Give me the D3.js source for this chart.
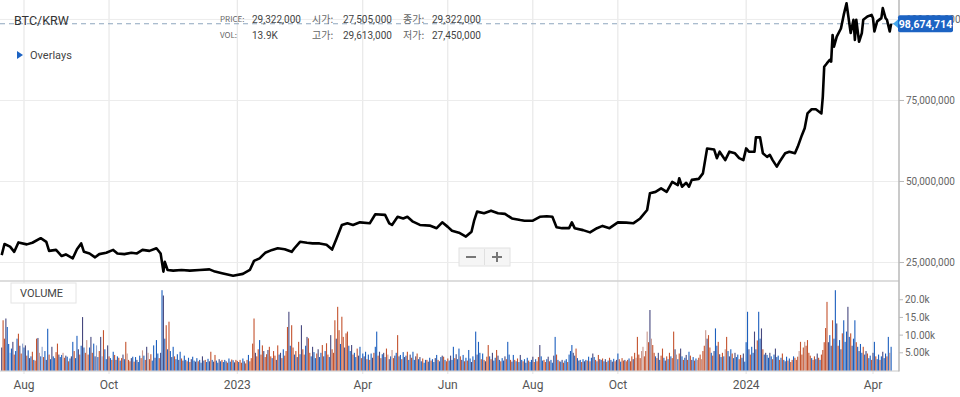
<!DOCTYPE html>
<html>
<head>
<meta charset="utf-8">
<script src="https://cdn.jsdelivr.net/npm/d3@7"></script>
<style>
  body { margin: 0; background: #fff; }
  svg { display: block; font-family: Roboto, "Liberation Sans", Arial, sans-serif; }
</style>
</head>
<body>
<div id="chart"></div>
<script>
// ---- data ----
const priceDates = [
  "2022-07-16","2022-07-18","2022-07-22","2022-07-25","2022-07-28","2022-08-03","2022-08-07","2022-08-13",
  "2022-08-17","2022-08-19","2022-08-24","2022-08-28","2022-08-31","2022-09-05","2022-09-08","2022-09-11",
  "2022-09-13","2022-09-17","2022-09-21","2022-09-24","2022-09-29","2022-10-04","2022-10-07","2022-10-12",
  "2022-10-17","2022-10-21","2022-10-25","2022-10-30","2022-11-04","2022-11-07","2022-11-09","2022-11-10",
  "2022-11-12","2022-11-16","2022-11-22","2022-11-28","2022-12-05","2022-12-12","2022-12-16","2022-12-21",
  "2022-12-29","2023-01-05","2023-01-10","2023-01-13","2023-01-17","2023-01-21","2023-01-26","2023-01-30",
  "2023-02-04","2023-02-09","2023-02-11","2023-02-15","2023-02-20","2023-02-24","2023-03-01","2023-03-06",
  "2023-03-10","2023-03-13","2023-03-17","2023-03-21","2023-03-25","2023-03-30","2023-04-06","2023-04-10",
  "2023-04-17","2023-04-20","2023-04-22","2023-04-26","2023-04-30","2023-05-03","2023-05-07","2023-05-12",
  "2023-05-19","2023-05-24","2023-05-28","2023-06-01","2023-06-04","2023-06-09","2023-06-14","2023-06-18",
  "2023-06-20","2023-06-22","2023-06-27","2023-07-02","2023-07-07","2023-07-12","2023-07-17","2023-07-23",
  "2023-07-26","2023-08-01","2023-08-06","2023-08-11","2023-08-15","2023-08-18","2023-08-22","2023-08-27",
  "2023-08-29","2023-08-31","2023-09-06","2023-09-11","2023-09-16","2023-09-20","2023-09-25","2023-10-01",
  "2023-10-07","2023-10-12","2023-10-17","2023-10-22","2023-10-24","2023-10-28","2023-11-01","2023-11-05",
  "2023-11-09","2023-11-13","2023-11-14","2023-11-16","2023-11-19","2023-11-21","2023-11-23","2023-11-28",
  "2023-12-01","2023-12-04","2023-12-09","2023-12-11","2023-12-13","2023-12-17","2023-12-20","2023-12-24",
  "2023-12-27","2023-12-30","2024-01-01","2024-01-03","2024-01-07","2024-01-08","2024-01-11","2024-01-13",
  "2024-01-16","2024-01-18","2024-01-20","2024-01-23","2024-01-25","2024-01-29","2024-02-01","2024-02-05",
  "2024-02-07","2024-02-10","2024-02-12","2024-02-14","2024-02-17","2024-02-20","2024-02-24","2024-02-25",
  "2024-02-26","2024-02-28","2024-03-01","2024-03-02","2024-03-03","2024-03-04","2024-03-06","2024-03-09",
  "2024-03-11","2024-03-13","2024-03-14","2024-03-16","2024-03-18","2024-03-19","2024-03-20","2024-03-22",
  "2024-03-24","2024-03-25","2024-03-28","2024-03-31","2024-04-01","2024-04-02","2024-04-04","2024-04-07",
  "2024-04-08","2024-04-10","2024-04-11","2024-04-13","2024-04-14"
];
// closing price, millions of KRW
const priceValues = [
  27.3,30.7,29.9,28.3,31.2,30.6,31.1,32.5,
  31.4,28.6,28.9,27.0,27.5,26.3,29.1,30.9,
  28.3,27.8,26.6,27.6,28.0,28.9,27.8,27.6,
  28.0,27.8,28.9,28.6,29.4,27.8,22.2,25.2,
  22.7,22.5,22.7,22.5,22.7,22.9,22.2,21.7,
  20.9,21.5,22.7,25.5,26.3,28.0,28.9,29.4,
  29.1,28.3,29.4,31.4,31.1,30.9,30.9,30.5,
  29.0,32.2,36.6,37.1,36.6,37.4,37.1,39.9,
  39.7,37.1,36.6,39.1,38.6,39.1,37.6,36.6,
  36.4,35.6,37.4,36.0,34.8,34.2,33.0,34.5,
  38.1,40.7,40.2,41.0,40.2,40.0,38.6,38.1,
  37.9,37.9,39.1,39.3,39.1,35.9,35.6,35.6,
  37.4,35.6,35.0,34.3,35.6,36.3,35.6,37.4,
  37.3,37.1,38.6,41.2,46.4,46.8,47.9,46.8,
  49.9,48.9,51.0,48.4,49.6,48.4,50.5,50.8,
  52.5,60.2,59.9,57.2,59.2,56.6,59.2,58.7,
  57.2,56.6,60.2,59.2,59.2,63.6,63.6,58.7,
  57.6,58.2,56.6,54.6,56.1,58.7,59.2,58.7,
  60.7,64.3,66.4,71.0,72.3,72.3,71.0,76.2,
  85.4,86.5,87.5,87.0,95.2,91.6,94.7,97.2,
  101.4,105.0,101.9,95.8,99.9,93.7,99.9,93.1,
  95.8,99.9,100.9,101.4,100.4,96.3,99.4,100.4,
  103.5,100.4,99.9,96.3,98.67
];
const lastPrice = 98674714;

// daily volume (thousands of BTC-units), starting at volStart
const volStart = "2022-07-16";
const volumes = [
  6.5,14.2,9.0,14.7,12.3,7.5,5.0,6.2,8.1,4.5,
  5.5,9.0,10.4,7.0,4.8,7.6,6.5,7.1,4.2,5.7,
  3.5,4.0,5.3,3.0,2.8,9.0,9.2,5.0,4.0,6.7,
  3.8,5.5,3.0,11.8,4.5,3.2,6.7,4.0,3.5,5.2,
  7.6,4.5,3.8,4.4,5.0,3.6,4.2,3.9,2.6,3.4,
  4.0,8.1,5.5,3.5,9.8,6.0,4.5,7.0,15.1,6.5,
  5.0,8.6,4.5,6.5,9.5,5.0,7.6,4.0,7.1,3.8,
  5.5,9.5,4.0,11.4,6.0,3.2,7.1,4.0,3.5,3.0,
  5.3,4.4,3.0,4.0,3.6,2.8,3.5,4.5,3.2,8.1,
  4.8,3.0,2.6,3.5,3.9,2.5,3.8,3.0,2.4,4.2,
  3.5,5.7,4.2,3.0,6.7,5.0,3.2,4.6,2.8,7.1,
  3.6,8.6,4.8,3.5,5.0,22.7,21.2,9.0,12.8,6.0,
  13.8,5.5,3.8,6.7,4.0,3.2,4.6,3.0,5.3,3.4,
  2.8,4.2,3.0,2.6,3.6,2.4,3.2,3.9,2.8,2.5,
  3.5,2.6,3.0,2.2,4.0,2.8,3.0,2.4,3.3,2.6,
  5.3,3.0,2.5,4.4,2.8,2.2,3.2,2.6,3.0,2.4,
  3.0,2.6,2.2,3.4,2.5,3.1,2.9,2.3,3.0,2.7,
  2.4,3.0,2.2,3.4,2.6,2.0,3.0,4.4,2.6,3.5,
  7.6,14.7,5.0,4.0,6.0,8.6,4.5,7.1,5.5,3.8,
  4.6,5.8,6.7,4.0,3.5,5.5,4.2,3.0,7.1,4.5,
  5.0,3.5,6.0,4.2,5.5,12.3,16.6,7.0,12.8,6.5,
  4.5,5.5,3.8,8.1,4.6,12.8,6.0,4.5,7.0,9.5,
  9.1,5.0,4.0,6.7,5.2,3.5,4.8,6.0,3.8,5.0,
  7.2,4.0,5.5,7.7,4.5,3.8,10.0,6.0,5.0,14.2,
  9.0,18.0,11.4,7.5,15.2,9.5,6.5,10.5,11.0,7.0,
  5.5,7.2,4.5,5.0,3.8,6.2,4.2,6.7,3.5,4.8,
  4.0,5.3,3.2,4.5,3.0,4.8,3.6,5.0,6.7,11.0,
  4.2,5.3,3.5,4.6,5.0,3.8,6.2,4.5,3.2,4.0,
  5.8,3.5,4.2,5.0,10.0,4.0,4.4,3.2,5.2,3.8,
  4.2,5.3,3.0,4.5,3.6,5.3,3.0,4.0,4.8,3.2,
  3.8,2.6,3.4,2.2,3.0,3.0,2.5,3.6,2.8,3.2,
  2.4,3.5,4.4,3.0,2.6,3.8,4.2,3.9,3.0,2.6,
  3.4,2.8,4.2,3.0,6.7,3.5,4.6,3.2,6.2,4.0,
  3.0,4.4,2.6,3.6,2.8,5.8,3.4,2.4,4.0,3.0,
  11.0,4.5,8.1,5.0,3.2,4.8,3.0,2.6,3.9,7.2,
  4.0,3.2,5.0,2.8,3.6,5.8,4.2,3.0,2.6,3.5,
  2.8,4.0,3.2,8.1,4.5,3.0,2.5,4.4,3.0,2.6,
  3.4,2.4,4.4,3.0,2.6,3.2,2.2,3.6,2.8,2.4,
  3.0,3.9,2.4,3.2,2.6,3.8,7.2,4.0,2.8,3.0,
  2.4,3.2,3.9,2.6,3.0,2.2,4.2,9.5,4.5,3.0,
  2.6,2.5,3.0,2.2,2.8,3.2,2.4,4.5,5.5,7.2,
  5.0,4.2,6.2,3.5,2.8,3.0,2.4,3.2,2.6,3.0,
  2.8,3.9,2.6,3.6,4.8,3.8,3.0,2.6,4.4,3.2,
  3.0,3.4,2.6,3.2,2.4,2.8,3.6,3.0,2.5,3.3,
  2.6,3.0,4.8,3.2,2.5,3.5,2.8,3.0,2.6,3.0,
  3.4,2.6,4.0,3.2,5.0,3.6,9.5,4.5,3.5,5.5,
  6.7,4.0,5.5,11.0,8.0,17.1,9.0,7.2,5.0,4.0,
  3.5,5.0,3.0,4.2,6.2,3.6,2.8,4.0,3.2,5.0,
  4.0,3.5,11.0,6.0,4.5,3.2,4.8,6.2,4.0,3.0,
  3.6,4.4,3.0,5.3,4.2,3.0,3.8,2.8,3.4,3.0,
  3.6,4.5,3.2,5.5,7.0,11.4,9.0,10.0,6.5,5.0,
  4.2,5.5,11.9,7.0,8.1,4.6,3.8,5.0,4.0,6.0,
  9.5,5.5,4.0,6.0,4.8,3.5,5.0,3.8,4.5,3.2,
  4.4,3.6,4.8,2.5,8.0,16.6,6.0,4.5,6.7,5.0,
  11.0,6.0,8.5,16.6,9.0,11.9,6.0,4.5,5.0,4.4,
  3.6,5.0,4.0,3.2,4.5,6.2,3.8,4.2,3.0,3.6,
  4.8,3.0,2.6,3.9,2.8,3.4,2.4,3.0,4.0,3.6,
  3.0,3.9,5.5,8.1,4.5,6.5,8.1,7.0,8.6,5.0,
  4.2,3.5,3.0,4.0,3.2,4.8,3.6,3.0,4.5,5.8,
  8.0,12.0,19.4,8.0,10.0,7.0,14.2,9.0,22.7,13.3,
  7.0,8.6,6.0,10.5,14.2,8.1,11.0,18.0,9.5,10.5,
  7.0,9.0,14.2,8.0,6.7,5.5,7.5,5.0,6.7,4.5,
  5.5,4.8,3.5,4.2,3.0,5.0,8.1,4.0,3.2,4.5,
  3.0,4.0,5.3,3.5,4.8,4.0,9.5,5.0,6.7
];
// bar colour per day: r red, p pale red, b blue, l pale blue, n navy
const volColors =
  "nrrnbblbnr" + "bbrnrlbnrb" + "nbrbrrnpbl" + "rbnbrbnbbr" + "rnbbprnbrb" +
  "nbrbbnrbnb" + "rprbnrbnlb" + "rnlrbbnrbr" + "brnbrbrnbr" + "prrnbrbnbb" +
  "rpbrnprrbb" + "nbbrnbnbrb" + "rbnbrbbnbr" + "nbbrbrnbbn" + "brbbnbrbbn" +
  "rbnrbbnbrb" + "bnrbbrbnrr" + "brrbnrrbrr" + "rrnrrbrrnr" + "rnrrbrrnrb" +
  "nrbrrrnbrr" + "brnrbnrrbn" + "rrbnbbrnbb" + "rnbrrbnrrr" + "nrrbrrnrrb" +
  "bnrbbrnbrb" + "nbrbrbnrbb" + "rnrbnbrpnb" + "prnbrnbrbn" + "brbnrbbnrb" +
  "nbrbbrnbrb" + "bnbrbbnrbr" + "rbnbbrnbbr" + "nbrbrbbnbr" + "bnbbrbrnrr" +
  "brnbbrnbrb" + "bnrbbrnbrb" + "rbnbrbnbrb" + "bnrbrrnbbr" + "rbnrbbnbrb" +
  "rbnrbbrbbb" + "nbrbnbrbnb" + "rbrbnbrbrn" + "brbnrbrbnb" + "rnbrbrrnrr" +
  "brrnrprrrp" + "prrprnprrb" + "rnbrrbnrbr" + "brrnpbrnbr" + "bnrbrnbrbp" +
  "rrprrpnrrb" + "rnbbrnbrbp" + "rbnbrbnbbr" + "rbnbbbnrbb" + "nbrbbnrbnb" +
  "bnbrbnbbrb" + "rbnbrbrrbr" + "rrprrrprrr" + "rbrrbnrbrr" + "rrrnbnrbbn" +
  "rbnrbbbnbr" + "nbbrbnbbrb" + "nrbbrnbrbb" + "rbnbbrbpb";
const barPalette = { r: "#c4532e", p: "#c9968c", b: "#1c5fbe", l: "#8fa3cf", n: "#46487e" };

const monthTicks = ["2022-08-01","2022-10-01","2023-01-01","2023-04-01","2023-06-01",
                    "2023-08-01","2023-10-01","2024-01-01","2024-04-01"];
const monthLabels = ["Aug","Oct","2023","Apr","Jun","Aug","Oct","2024","Apr"];
const priceTicks = [25e6, 50e6, 75e6, 100e6];
const volTicks = [5000, 10000, 15000, 20000];
const volTickLabels = ["5.00k","10.00k","15.0k","20.0k"];

const infoRow1 = [["PRICE:", "29,322,000"], ["시가:", "27,505,000"], ["종가:", "29,322,000"]];
const infoRow2 = [["VOL:", "13.9K"], ["고가:", "29,613,000"], ["저가:", "27,450,000"]];

// ---- layout ----
const W = 960, H = 397;
const plotR = 899;          // right price axis
const priceTop = 0, priceBot = 281;
const volTop = 281, volBot = 370.5;

const parse = d3.utcParse("%Y-%m-%d");

const svg = d3.select("#chart").append("svg")
    .attr("width", W).attr("height", H)
    .attr("viewBox", `0 0 ${W} ${H}`);

svg.append("rect").attr("width", W).attr("height", H).attr("fill", "#fff");

// time scale pinned to the month grid of the picture
const x = d3.scaleUtc()
    .domain([parse("2022-08-01"), parse("2024-04-01")])
    .range([24, 873]);

const yPrice = d3.scaleLinear().domain([19.3e6, 106e6]).range([priceBot, priceTop]);
const yVol = d3.scaleLinear().domain([0, 25300]).range([volBot, volTop]);

// vertical month grid
svg.append("g").selectAll("line")
    .data(monthTicks.map(parse))
    .enter().append("line")
    .attr("x1", d => x(d)).attr("x2", d => x(d))
    .attr("y1", 0).attr("y2", 374)
    .attr("stroke", "#e3e3e3").attr("stroke-width", 1);

// horizontal price grid
svg.append("g").selectAll("line")
    .data(priceTicks)
    .enter().append("line")
    .attr("x1", 0).attr("x2", plotR)
    .attr("y1", d => yPrice(d)).attr("y2", d => yPrice(d))
    .attr("stroke", "#ececec").attr("stroke-width", 1);

// panel separator + volume baseline
svg.append("line").attr("x1", 0).attr("x2", plotR).attr("y1", priceBot).attr("y2", priceBot)
    .attr("stroke", "#d2d2d2").attr("stroke-width", 1.5);
svg.append("line").attr("x1", 0).attr("x2", plotR).attr("y1", volBot + 0.5).attr("y2", volBot + 0.5)
    .attr("stroke", "#c8c8c8").attr("stroke-width", 1);

// volume bars
const v0 = parse(volStart);
const volData = volumes.map((v, i) => ({ date: d3.utcDay.offset(v0, i), v: v * 1000, c: volColors[i] }));
svg.append("g").selectAll("rect")
    .data(volData)
    .enter().append("rect")
    .attr("x", d => x(d.date) - 0.55)
    .attr("width", 1.1)
    .attr("y", d => yVol(d.v))
    .attr("height", d => volBot - yVol(d.v))
    .attr("fill", d => barPalette[d.c] || barPalette.b);

// last-price dashed line
svg.append("line")
    .attr("x1", 0).attr("x2", plotR)
    .attr("y1", yPrice(lastPrice)).attr("y2", yPrice(lastPrice))
    .attr("stroke", "#8fa6bf").attr("stroke-width", 1.2)
    .attr("stroke-dasharray", "5,4");

// price line
const priceData = priceDates.map((d, i) => ({ date: parse(d), v: priceValues[i] * 1e6 }));
svg.append("path")
    .datum(priceData)
    .attr("fill", "none")
    .attr("stroke", "#000")
    .attr("stroke-width", 2.6)
    .attr("stroke-linejoin", "round")
    .attr("d", d3.line().x(d => x(d.date)).y(d => yPrice(d.v)));

// right axis line
svg.append("line").attr("x1", plotR).attr("x2", plotR).attr("y1", 0).attr("y2", volBot + 1)
    .attr("stroke", "#b9b9b9").attr("stroke-width", 1.5);

// price axis ticks and labels
const pAxis = svg.append("g");
pAxis.selectAll("line").data(priceTicks).enter().append("line")
    .attr("x1", plotR).attr("x2", plotR + 5)
    .attr("y1", d => yPrice(d)).attr("y2", d => yPrice(d))
    .attr("stroke", "#b9b9b9");
pAxis.selectAll("text").data(priceTicks).enter().append("text")
    .attr("x", plotR + 7).attr("y", d => yPrice(d)).attr("dy", "0.35em")
    .attr("font-size", 10).attr("fill", "#666")
    .text(d => d3.format(",")(d));

// volume axis
const vAxis = svg.append("g");
vAxis.selectAll("line").data(volTicks).enter().append("line")
    .attr("x1", plotR).attr("x2", plotR + 4)
    .attr("y1", d => yVol(d)).attr("y2", d => yVol(d))
    .attr("stroke", "#b9b9b9");
vAxis.selectAll("text").data(volTicks).enter().append("text")
    .attr("x", plotR + 6).attr("y", d => yVol(d)).attr("dy", "0.35em")
    .attr("font-size", 10).attr("fill", "#666")
    .text((d, i) => volTickLabels[i]);

// time axis labels
svg.append("g").selectAll("text")
    .data(monthTicks)
    .enter().append("text")
    .attr("x", d => x(parse(d))).attr("y", 385).attr("dy", "0.35em")
    .attr("text-anchor", "middle").attr("font-size", 12).attr("fill", "#555")
    .text((d, i) => monthLabels[i]);

// last-price badge (covers the top price label, as in the source)
const by = yPrice(lastPrice);
const badge = svg.append("g");
badge.append("path")
    .attr("d", `M893,${by} L900,${by - 6} L900,${by + 6} Z`)
    .attr("fill", "#45a8ee");
badge.append("rect")
    .attr("x", 898).attr("y", by - 8.5).attr("width", 55).attr("height", 17).attr("rx", 2)
    .attr("fill", "#1c63c3");
badge.append("text")
    .attr("x", 925.5).attr("y", by).attr("dy", "0.36em")
    .attr("text-anchor", "middle").attr("font-size", 10.5).attr("font-weight", "bold")
    .attr("fill", "#fff")
    .text(d3.format(",")(lastPrice));

// title and info block
svg.append("text").attr("x", 14).attr("y", 25).attr("font-size", 12.5).attr("fill", "#333").text("BTC/KRW");

const infoCols = [220, 312, 403];
const numCols = [252, 343, 432];
[infoRow1, infoRow2].forEach((row, r) => {
    row.forEach((cell, c) => {
        svg.append("text").attr("x", infoCols[c]).attr("y", 19 + r * 16).attr("dy", "0.35em")
            .attr("font-size", c === 0 ? 8 : 10)
            .attr("font-family", "'Noto Sans CJK KR', Roboto, sans-serif")
            .attr("fill", "#666").text(cell[0]);
        svg.append("text").attr("x", numCols[c]).attr("y", 19 + r * 16).attr("dy", "0.35em")
            .attr("font-size", 10).attr("fill", "#444").text(cell[1]);
    });
});

svg.append("path").attr("d", "M17,51 L23,55 L17,59 Z").attr("fill", "#1c63c3");
svg.append("text").attr("x", 30).attr("y", 55).attr("dy", "0.35em")
    .attr("font-size", 11).attr("fill", "#444").text("Overlays");

// zoom buttons
const zb = svg.append("g");
zb.append("rect").attr("x", 459).attr("y", 248).attr("width", 51).attr("height", 18)
    .attr("fill", "#f5f5f5").attr("stroke", "#e2e2e2");
zb.append("line").attr("x1", 484.5).attr("x2", 484.5).attr("y1", 249).attr("y2", 265).attr("stroke", "#e0e0e0");
zb.append("line").attr("x1", 466).attr("x2", 476).attr("y1", 257).attr("y2", 257)
    .attr("stroke", "#777").attr("stroke-width", 2);
zb.append("line").attr("x1", 492).attr("x2", 502).attr("y1", 257).attr("y2", 257)
    .attr("stroke", "#777").attr("stroke-width", 2);
zb.append("line").attr("x1", 497).attr("x2", 497).attr("y1", 252).attr("y2", 262)
    .attr("stroke", "#777").attr("stroke-width", 2);

// VOLUME label box
svg.append("rect").attr("x", 11).attr("y", 283).attr("width", 65).attr("height", 20)
    .attr("fill", "#fff").attr("stroke", "#e4e4e4");
svg.append("text").attr("x", 20).attr("y", 293).attr("dy", "0.35em")
    .attr("font-size", 11).attr("fill", "#444").text("VOLUME");
</script>
</body>
</html>
